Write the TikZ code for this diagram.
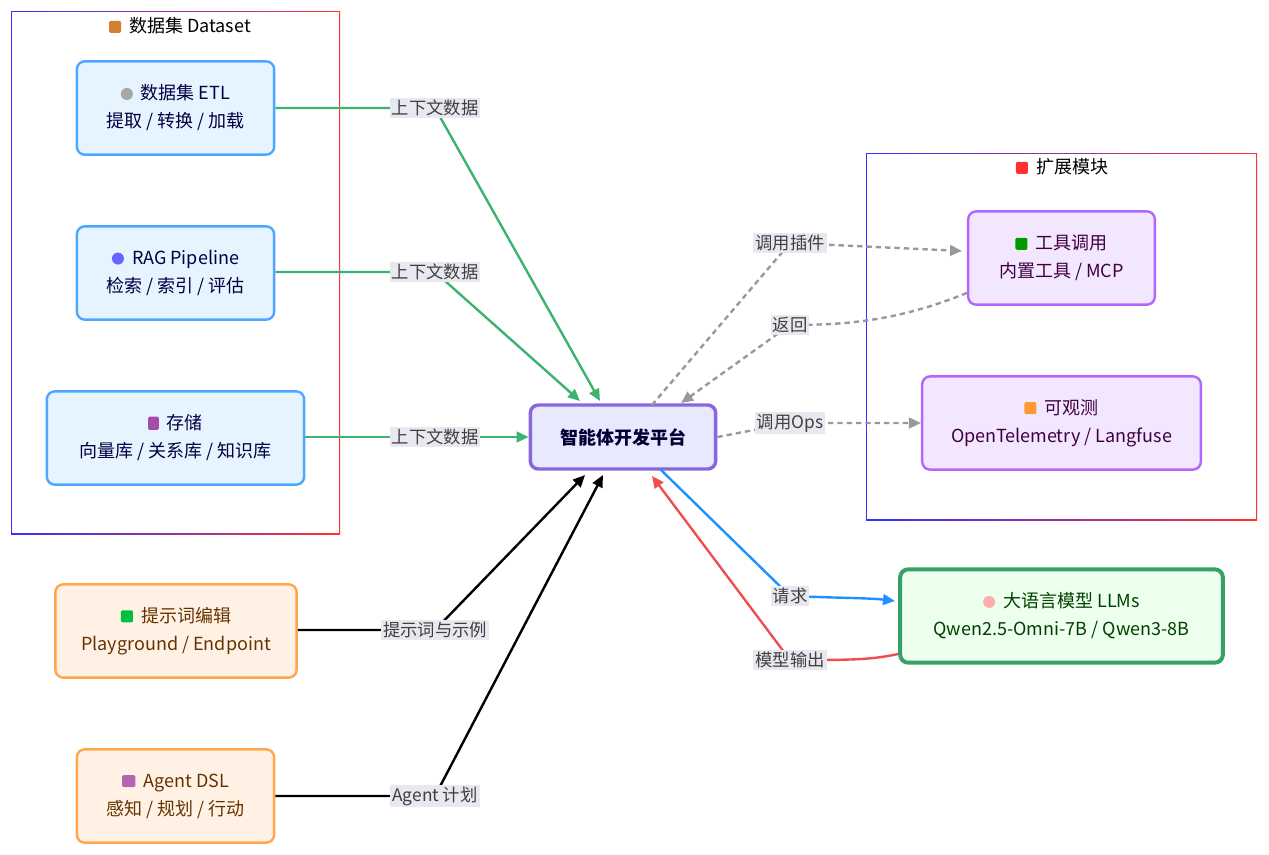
\documentclass[tikz,border=0pt]{standalone}
\usepackage{fontspec}
\setmainfont{Noto Sans CJK SC}
\usetikzlibrary{arrows.meta}
\definecolor{gE}{HTML}{3CB371}
\definecolor{gD}{HTML}{999999}
\definecolor{bQ}{HTML}{1E90FF}
\definecolor{rM}{HTML}{F04E4E}
\definecolor{lb}{HTML}{E8E8F0}
\definecolor{dsfill}{HTML}{E6F4FF}
\definecolor{dsdraw}{HTML}{4DA6FF}
\definecolor{exfill}{HTML}{F3E6FF}
\definecolor{exdraw}{HTML}{B266FF}
\tikzset{
 box/.style={draw,rounded corners=6pt,line width=1.8pt,align=center,font=\fontsize{13.5}{21}\selectfont,inner sep=0pt},
 dsb/.style={box,fill=dsfill,draw=dsdraw,text=blue!25!black},
 ext/.style={box,fill=exfill,draw=exdraw,text=violet!50!black},
 org/.style={box,fill=orange!10!white,draw=orange!70!white,text=orange!40!black},
 lab/.style={fill=lb,inner sep=1.5pt,font=\fontsize{13}{15}\selectfont,text=black!75},
 tip/.style={-{Triangle[length=9pt,width=8pt]}},
 ge/.style={tip,gE,line width=1.8pt},
 be/.style={tip,black,line width=1.8pt},
 de/.style={tip,gD,line width=1.8pt,dash pattern=on 4pt off 3pt}
}
\begin{document}
\begin{tikzpicture}[x=0.75pt,y=-0.75pt]
\useasboundingbox (0,0) rectangle (1269,854);
% clusters
\shade[left color=blue!80,right color=red!80] (11,11) rectangle (340,534);
\fill[white] (12,12) rectangle (339,533);
\shade[left color=blue!80,right color=red!80] (866,153) rectangle (1257,520);
\fill[white] (867,154) rectangle (1256,519);
\node (cl1) at (180,26) {\fontsize{13.5}{15}\selectfont\tikz\fill[brown!70!orange,rounded corners=1pt] (0,0) rectangle (9pt,9pt);\ \ 数据集 Dataset};
\node (cl2) at (1062,167) {\fontsize{13.5}{15}\selectfont\tikz\fill[red!75!pink,rounded corners=1pt] (0,0) rectangle (9pt,9pt);\ \ 扩展模块};
% nodes
\node[dsb,minimum width=148pt,minimum height=70pt] (etl) at (175.5,108) {\tikz\fill[gray!70] (0,0) circle (4.5pt);\ \ 数据集 ETL\\提取 / 转换 / 加载};
\node[dsb,minimum width=148pt,minimum height=70pt] (rag) at (175.5,273) {\tikz\fill[blue!60] (0,0) circle (4.5pt);\ \ RAG Pipeline\\检索 / 索引 / 评估};
\node[dsb,minimum width=193pt,minimum height=70pt] (sto) at (175.5,438) {\tikz\fill[violet!70,rounded corners=1pt] (0,0) rectangle (8pt,10pt);\ \ 存储\\向量库 / 关系库 / 知识库};
\node[box,fill=blue!9!white,draw=blue!55!violet!60!white,line width=2.6pt,minimum width=139pt,minimum height=48pt,font=\fontsize{13.5}{15}\selectfont\bfseries,text=blue!20!black] (ctr) at (623,437) {智能体开发平台};
\node[ext,minimum width=140pt,minimum height=70pt] (tool) at (1061.5,258) {\tikz\fill[green!60!black,rounded corners=1pt] (0,0) rectangle (9pt,9pt);\ \ 工具调用\\内置工具 / MCP};
\node[ext,minimum width=209pt,minimum height=70pt] (obs) at (1061.5,423) {\tikz\fill[orange!80,rounded corners=1pt] (0,0) rectangle (9pt,9pt);\ \ 可观测\\OpenTelemetry / Langfuse};
\node[box,fill=green!7!white,draw=gE!90!black,line width=3pt,text=green!25!black,minimum width=242pt,minimum height=70pt] (llm) at (1061.5,616) {\tikz\fill[pink!90!red] (0,0) circle (4.5pt);\ \ 大语言模型 LLMs\\Qwen2.5-Omni-7B / Qwen3-8B};
\node[org,minimum width=181pt,minimum height=70pt] (pr) at (176,631) {\tikz\fill[green!50!teal,rounded corners=1pt] (0,0) rectangle (9pt,9pt);\ \ 提示词编辑\\Playground / Endpoint};
\node[org,minimum width=148pt,minimum height=70pt] (ag) at (175.5,796) {\tikz\fill[violet!60,rounded corners=1pt] (0,0) rectangle (10pt,9pt);\ \ Agent DSL\\感知 / 规划 / 行动};
% label coordinates
\coordinate (l1) at (435,108);
\coordinate (l2) at (435,272);
\coordinate (l3) at (435,437);
\coordinate (l4) at (435,630);
\coordinate (l5) at (435,796);
\coordinate (l6) at (790,243);
\coordinate (l7) at (790,325);
\coordinate (l8) at (790,423);
\coordinate (l9) at (790,596);
\coordinate (l10) at (790,660);
% edges
\draw[ge] (etl.east |- l1) -- (l1) -- (600,401);
\draw[ge] (rag.east |- l2) -- (l2) -- (580,401);
\draw[ge] (sto.east |- l3) -- (l3) -- (ctr.west);
\draw[be] (pr.east |- l4) -- (l4) -- (585,475);
\draw[be] (ag.east |- l5) -- (l5) -- (603,475);
\draw[de] (652,405) -- (l6) -- (962,251);
\draw[de] (tool.south west) ++(0,-13) .. controls (900,320) and (850,325) .. (l7) -- (681,403);
\draw[de] (ctr.east) -- (l8) -- (obs.west);
\draw[tip,bQ,line width=1.8pt] (660,469) -- (l9) .. controls (840,598) and (870,598) .. (895,601);
\draw[tip,rM,line width=1.8pt] (llm.west) ++(0,38) .. controls (870,660) and (850,660) .. (l10) -- (652,476);
% labels
\node[lab] (t1) at (l1) {上下文数据};
\node[lab] (t2) at (l2) {上下文数据};
\node[lab] (t3) at (l3) {上下文数据};
\node[lab] (t4) at (l4) {提示词与示例};
\node[lab] (t5) at (l5) {Agent 计划};
\node[lab] (t6) at (l6) {调用插件};
\node[lab] (t7) at (l7) {返回};
\node[lab] (t8) at (l8) {调用Ops};
\node[lab] (t9) at (l9) {请求};
\node[lab] (t10) at (l10) {模型输出};
\end{tikzpicture}
\end{document}
